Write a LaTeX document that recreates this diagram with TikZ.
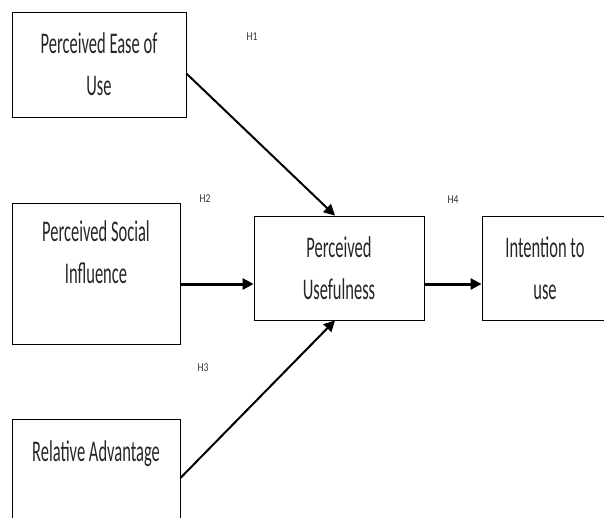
\documentclass[tikz,border=0pt]{standalone}
\usepackage{fontspec}
\setmainfont[FakeStretch=0.55]{Carlito}
\newfontfamily\hypfont[FakeStretch=0.8]{Carlito}
\usepackage{tikz}
\usetikzlibrary{arrows.meta, positioning}

\begin{document}
\begin{tikzpicture}[x=1pt, y=-1pt,
  construct/.style={rectangle, draw=black, line width=0.8pt, align=center, inner sep=0pt, font=\fontsize{30}{42}\selectfont, text=black!85},
  arr/.style={-{Triangle[length=11pt, width=11pt]}, line width=2pt},
  harr/.style={-{Triangle[length=11pt, width=11pt]}, line width=3pt},
  hyp/.style={font=\hypfont\fontsize{12}{14}\selectfont, text=black!80},
]
  \useasboundingbox (0,0) rectangle (604,517);
  \clip (0,0) rectangle (604,517);

  % Constructs
  \node[construct, minimum width=174pt, minimum height=105pt] (peou) at (99,64.5) {Perceived Ease of\\Use};
  \node[construct, minimum width=168pt, minimum height=141pt] (psi) at (96,273.5) {Perceived Social\\Influence\\ \mbox{}};
  \node[construct, minimum width=168pt, minimum height=106pt] (ra) at (96,472) {Relative Advantage\\ \mbox{}};
  \node[construct, minimum width=170pt, minimum height=104pt] (pu) at (339,268) {Perceived\\Usefulness};
  \node[construct, minimum width=126pt, minimum height=104pt] (iu) at (545,268) {Intention to\\use};

  % Hypotheses
  \node[hyp] (h1) at (252,37) {H1};
  \node[hyp] (h2) at (205,199) {H2};
  \node[hyp] (h3) at (203,368) {H3};
  \node[hyp] (h4) at (453,200) {H4};

  % Paths
  \draw[arr] ([yshift=-9pt]peou.east) -- ([xshift=-4pt]pu.north);
  \draw[arr] ([yshift=-6pt]ra.east) -- ([xshift=-4pt]pu.south);
  \draw[harr] ([yshift=-16pt]pu.west -| psi.east) -- ([yshift=-16pt]pu.west);
  \draw[harr] ([yshift=-16pt]pu.east) -- ([yshift=-16pt]iu.west);
\end{tikzpicture}
\end{document}
